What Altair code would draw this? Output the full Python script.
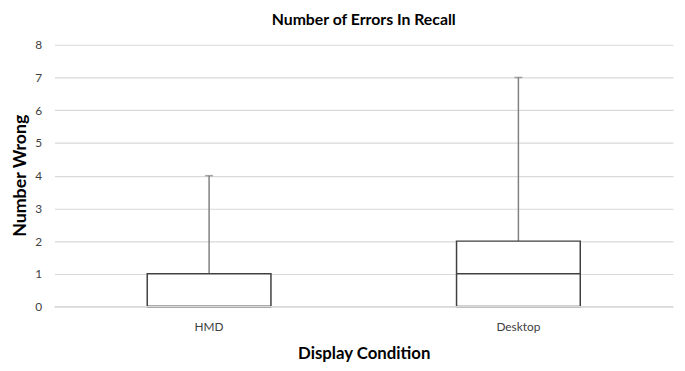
import altair as alt
import pandas as pd

categories = ["HMD", "Desktop"]
mins = [0, 0]
q1s = [0, 0]
medians = [0, 1]
q3s = [1, 2]
maxs = [4, 7]
y_ticks = [0, 1, 2, 3, 4, 5, 6, 7, 8]

df = pd.DataFrame({"cond": categories, "min": mins, "q1": q1s,
                   "median": medians, "q3": q3s, "max": maxs})

FONT = "Lato"
xaxis = alt.Axis(title="Display Condition", labelAngle=0, ticks=False,
                 domain=False, grid=False, labelPadding=15,
                 labelFontSize=12, labelColor="#404040", labelFont=FONT,
                 titleFont=FONT, titleFontSize=17, titleFontWeight="bold",
                 titleColor="#000000", titlePadding=14)
xscale = alt.Scale(paddingInner=0, paddingOuter=0)
yscale = alt.Scale(domain=[0, 8], nice=False)
yaxis = alt.Axis(title="Number Wrong", values=y_ticks, ticks=False, domain=False,
                 grid=True, gridColor="#d9d9d9", gridWidth=1.2, labelOverlap=False,
                 labelFontSize=12, labelColor="#404040", labelFont=FONT, labelPadding=13,
                 titleFont=FONT, titleFontSize=18, titleFontWeight="bold",
                 titleColor="#000000", titleX=-25, titleY=132)


def X():
    return alt.X("cond:N", sort=categories, scale=xscale, axis=xaxis)


def Y(f):
    return alt.Y(f, scale=yscale, axis=yaxis)


base = alt.Chart(df)

whisker = base.mark_rule(color="#808080", strokeWidth=1.5).encode(
    x=X(), y=Y("q3:Q"), y2="max:Q")
cap = base.mark_tick(color="#808080", thickness=1.5, size=8, orient="horizontal").encode(
    x=X(), y=Y("max:Q"))
box = base.mark_bar(fill="white", stroke="#404040", strokeWidth=1.5,
                    width=alt.RelativeBandSize(0.4)).encode(
    x=X(), y=Y("q1:Q"), y2="q3:Q")
med = base.mark_bar(fill="white", stroke="#404040", strokeWidth=1.5,
                    width=alt.RelativeBandSize(0.4)).encode(
    x=X(), y=Y("median:Q"), y2="median:Q")
zero = alt.Chart(pd.DataFrame({"z": [0]})).mark_rule(color="#d9d9d9", strokeWidth=1.2).encode(
    y=Y("z:Q"))

chart = alt.layer(whisker, cap, box, med, zero).properties(
    width=626, height=265,
    title=alt.TitleParams("Number of Errors  In Recall", font=FONT, fontSize=16,
                          fontWeight="bold", color="#000000", offset=11),
    autosize=alt.AutoSizeParams(type="none"),
    padding={"left": 47, "top": 35, "right": 4, "bottom": 62},
).configure_view(stroke=None)

chart.save("out.html", embed_options={"renderer": "svg", "actions": False})
